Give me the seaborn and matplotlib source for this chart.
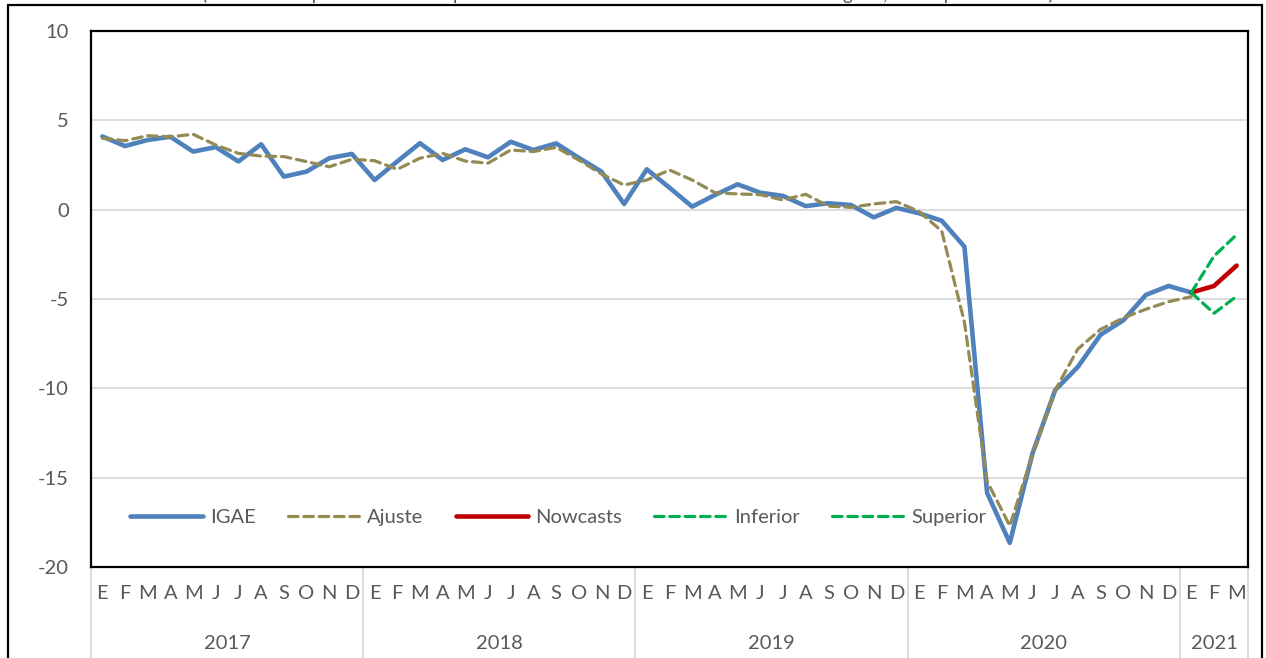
import numpy as np
import pandas as pd
import matplotlib
matplotlib.use("Agg")
import matplotlib.pyplot as plt
import matplotlib.patches as mpatches
import matplotlib.transforms as mtransforms
import seaborn as sns

# ── data ──────────────────────────────────────────────────────────────────────
months = ["E", "F", "M", "A", "M", "J", "J", "A", "S", "O", "N", "D"] * 4 + ["E", "F", "M"]
years = ["2017", "2018", "2019", "2020", "2021"]
year_len = [12, 12, 12, 12, 3]

igae = [4.1, 3.56, 3.9, 4.08, 3.25, 3.5, 2.7, 3.66, 1.85, 2.13, 2.88, 3.12,
        1.66, 2.7, 3.72, 2.78, 3.38, 2.93, 3.8, 3.34, 3.71, 2.9, 2.13, 0.32,
        2.26, 1.23, 0.17, 0.82, 1.42, 0.95, 0.77, 0.2, 0.36, 0.26, -0.43, 0.1,
        -0.2, -0.62, -2.07, -15.85, -18.65, -13.65, -10.1, -8.8, -7.0, -6.2, -4.77, -4.27,
        -4.64]
ajuste = [4.0, 3.86, 4.14, 4.08, 4.22, 3.62, 3.15, 3.0, 2.97, 2.69, 2.4, 2.82,
          2.74, 2.26, 2.88, 3.15, 2.72, 2.6, 3.34, 3.25, 3.49, 2.78, 2.0, 1.38,
          1.66, 2.22, 1.66, 0.95, 0.88, 0.84, 0.54, 0.86, 0.2, 0.13, 0.32, 0.45,
          -0.1, -1.2, -6.3, -15.2, -17.7, -13.7, -10.1, -7.8, -6.7, -6.06, -5.57, -5.15,
          -4.87]
nowcasts = [-4.64, -4.27, -3.13]
inferior = [-4.64, -5.8, -4.85]
superior = [-4.64, -2.6, -1.4]

n = len(months)
start_fc = len(igae) - 1

df = pd.concat([
    pd.DataFrame({"t": range(len(igae)), "valor": igae, "serie": "IGAE"}),
    pd.DataFrame({"t": range(len(ajuste)), "valor": ajuste, "serie": "Ajuste"}),
    pd.DataFrame({"t": range(start_fc, n), "valor": nowcasts, "serie": "Nowcasts"}),
    pd.DataFrame({"t": range(start_fc, n), "valor": inferior, "serie": "Inferior"}),
    pd.DataFrame({"t": range(start_fc, n), "valor": superior, "serie": "Superior"}),
], ignore_index=True)

styles = {
    "IGAE":     dict(color="#4F81BD", lw=3.3, dashes=""),
    "Ajuste":   dict(color="#948A54", lw=2.3, dashes=(3, 1.8)),
    "Nowcasts": dict(color="#C00000", lw=3.3, dashes=""),
    "Inferior": dict(color="#00B050", lw=2.3, dashes=(3, 1.8)),
    "Superior": dict(color="#00B050", lw=2.3, dashes=(3, 1.8)),
}

# ── figure ────────────────────────────────────────────────────────────────────
sns.set_theme(style="white")
plt.rcParams["font.family"] = ["Lato", "DejaVu Sans"]
plt.rcParams["axes.unicode_minus"] = False
txt = "#595959"

W, H = 1266, 658
fig = plt.figure(figsize=(W / 100, H / 100), dpi=100)
ax = fig.add_axes([91 / W, 1 - 567 / H, (1248 - 91) / W, (567 - 31) / H])

for name, st in styles.items():
    sub = df[df["serie"] == name]
    sns.lineplot(data=sub, x="t", y="valor", ax=ax, color=st["color"],
                 linewidth=st["lw"], label=name, legend=False)
    l = ax.lines[-1]
    l.set_solid_capstyle("round")
    if st["dashes"]:
        l.set_dashes(st["dashes"])
        l.set_dash_capstyle("round")

ax.set_xlim(-0.5, n - 0.5)
ax.set_ylim(-20, 10)
ax.set_yticks([-20, -15, -10, -5, 0, 5, 10])
ax.yaxis.grid(True, color="#D9D9D9", linewidth=1.3)
ax.set_axisbelow(True)
for s in ax.spines.values():
    s.set_color("black")
    s.set_linewidth(1.6)

ax.set_xticks(range(n))
ax.set_xticklabels(months)
ax.tick_params(axis="x", length=0, pad=13, labelsize=14.5, labelcolor=txt)
ax.tick_params(axis="y", length=0, pad=16, labelsize=14.5, labelcolor=txt)
ax.set_xlabel("")
ax.set_ylabel("")

# year labels and separators below the axis
trans = mtransforms.blended_transform_factory(ax.transData, ax.transAxes)
edge = -0.5
for yr, ln in zip(years, year_len):
    ax.text(edge + ln / 2, -0.142, yr, transform=trans, ha="center", va="center",
            fontsize=14.5, color=txt)
    ax.plot([edge, edge], [0, -0.2], transform=trans, color="#D9D9D9",
            linewidth=1.3, clip_on=False)
    edge += ln
ax.plot([edge, edge], [0, -0.2], transform=trans, color="#D9D9D9",
        linewidth=1.3, clip_on=False)

leg = ax.legend(loc="center left", bbox_to_anchor=(0.034, 0.093), ncol=5,
                frameon=False, fontsize=14.5, handlelength=3.6, handletextpad=0.35,
                columnspacing=1.6, borderpad=0, borderaxespad=0)
for t in leg.get_texts():
    t.set_color(txt)

# outer chart frame
fig.patches.append(mpatches.Rectangle((8 / W, -0.1), (1262 - 8) / W, 1.1 - 5 / H,
                                      transform=fig.transFigure, fill=False,
                                      edgecolor="black", linewidth=1.6))

# title line, cut off by the top of the image as in the reference
fig.text(0.496, 1.0, "(Variaciones porcentuales respecto al mismo mes del año anterior. "
         "Serie original, cifras preliminares)", ha="center", va="baseline",
         fontsize=14, color=txt)

fig.savefig("out.png", dpi=100)
